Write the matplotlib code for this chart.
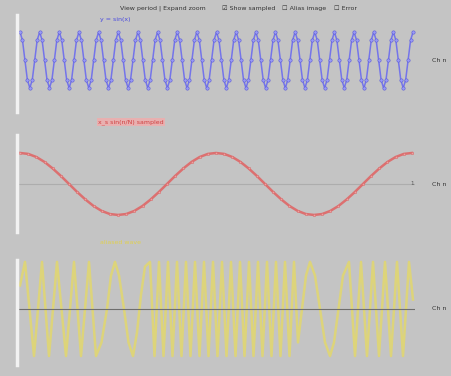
import matplotlib.pyplot as plt

# blue trace: 20 cycles, 8 samples per cycle
blue_y = [
    1.0, 0.71, 0.0, -0.71, -1.0, -0.71, 0.0, 0.71,
    1.0, 0.71, 0.0, -0.71, -1.0, -0.71, 0.0, 0.71,
    1.0, 0.71, 0.0, -0.71, -1.0, -0.71, 0.0, 0.71,
    1.0, 0.71, 0.0, -0.71, -1.0, -0.71, 0.0, 0.71,
    1.0, 0.71, 0.0, -0.71, -1.0, -0.71, 0.0, 0.71,
    1.0, 0.71, 0.0, -0.71, -1.0, -0.71, 0.0, 0.71,
    1.0, 0.71, 0.0, -0.71, -1.0, -0.71, 0.0, 0.71,
    1.0, 0.71, 0.0, -0.71, -1.0, -0.71, 0.0, 0.71,
    1.0, 0.71, 0.0, -0.71, -1.0, -0.71, 0.0, 0.71,
    1.0, 0.71, 0.0, -0.71, -1.0, -0.71, 0.0, 0.71,
    1.0, 0.71, 0.0, -0.71, -1.0, -0.71, 0.0, 0.71,
    1.0, 0.71, 0.0, -0.71, -1.0, -0.71, 0.0, 0.71,
    1.0, 0.71, 0.0, -0.71, -1.0, -0.71, 0.0, 0.71,
    1.0, 0.71, 0.0, -0.71, -1.0, -0.71, 0.0, 0.71,
    1.0, 0.71, 0.0, -0.71, -1.0, -0.71, 0.0, 0.71,
    1.0, 0.71, 0.0, -0.71, -1.0, -0.71, 0.0, 0.71,
    1.0, 0.71, 0.0, -0.71, -1.0, -0.71, 0.0, 0.71,
    1.0, 0.71, 0.0, -0.71, -1.0, -0.71, 0.0, 0.71,
    1.0, 0.71, 0.0, -0.71, -1.0, -0.71, 0.0, 0.71,
    1.0, 0.71, 0.0, -0.71, -1.0, -0.71, 0.0, 0.71,
    1.0,
]

# red trace: 2 slow cycles, 24 samples per cycle
red_y = [
    1.0, 0.97, 0.87, 0.71, 0.5, 0.26, 0.0, -0.26, -0.5, -0.71, -0.87, -0.97,
    -1.0, -0.97, -0.87, -0.71, -0.5, -0.26, 0.0, 0.26, 0.5, 0.71, 0.87, 0.97,
    1.0, 0.97, 0.87, 0.71, 0.5, 0.26, 0.0, -0.26, -0.5, -0.71, -0.87, -0.97,
    -1.0, -0.97, -0.87, -0.71, -0.5, -0.26, 0.0, 0.26, 0.5, 0.71, 0.87, 0.97,
    1.0,
]

# yellow trace: aliased wave, vertices
yellow_x = [20, 25, 34, 42, 49, 57, 66, 74, 81, 89, 96, 101.5, 107, 111, 115,
            119, 124, 128.5, 133, 137, 141, 145, 150,
            154.5, 159, 163.5, 168, 172.5, 177, 181.5, 186, 190.5, 195,
            199.5, 204, 208.5, 213, 217.5, 222, 226.5, 231, 235.5, 240,
            244.5, 249, 253.5, 258, 262.5, 267, 271.5, 276, 280.5, 285,
            289.5, 294,
            298, 302, 306, 310, 315, 320, 325, 330, 334, 338.5, 343, 349,
            355, 361, 367, 373, 379, 385, 391, 397, 403, 409, 413]
yellow_y = [0.5, 1, -1, 1, -1, 1, -1, 1, -1, 1, -1, -0.71, 0, 0.71, 1,
            0.71, 0, -0.71, -1, -0.5, 0.3, 0.9, 1,
            -1, 1, -1, 1, -1, 1, -1, 1, -1, 1,
            -1, 1, -1, 1, -1, 1, -1, 1, -1, 1,
            -1, 1, -1, 1, -1, 1, -1, 1, -1, 1,
            -1, 1,
            -0.71, 0, 0.71, 1, 0.71, 0, -0.71, -1, -0.71, 0, 0.71, 1,
            -1, 1, -1, 1, -1, 1, -1, 1, -1, 1, 0.2]

bg = '#c4c4c4'
W, H = 452, 376
fig = plt.figure(figsize=(W / 100, H / 100), dpi=100, facecolor=bg)


def panel(top, bottom):
    ax = fig.add_axes([17 / W, 1 - bottom / H, 398 / W, (bottom - top) / H])
    ax.set_facecolor(bg)
    for s in ['top', 'right', 'bottom']:
        ax.spines[s].set_visible(False)
    ax.spines['left'].set_color('#f2f2f2')
    ax.spines['left'].set_linewidth(2.5)
    ax.set_xticks([])
    ax.set_yticks([])
    return ax


# panel 1 - blue
ax1 = panel(15, 112)
ax1.plot(range(len(blue_y)), blue_y, color='#7474ea', lw=1.1,
         marker='o', ms=2.4, mfc='#9a9af5', mec='#5a5ad6', mew=0.4)
ax1.set_xlim(-1.22, 160.8)
ax1.set_ylim(-1.86, 1.61)

# panel 2 - red
ax2 = panel(135, 232)
ax2.axhline(0, color='#adadad', lw=0.8)
ax2.plot(range(len(red_y)), red_y, color='#dc7070', lw=1.8,
         marker='o', ms=1.8, mfc='#f0a0a0', mec='#d06060', mew=0.3)
ax2.set_xlim(-0.37, 48.37)
ax2.set_ylim(-1.55, 1.58)
ax2.text(48, 0, '1', fontsize=4, color='#555555', ha='center', va='center')

# panel 3 - yellow
ax3 = panel(260, 365)
ax3.plot(yellow_x, yellow_y, color='#e0d672', lw=1.8, alpha=0.9)
ax3.axhline(0, color='#6e6e6e', lw=0.8)
ax3.set_xlim(17, 415)
ax3.set_ylim(-1.19, 1.04)

# header with view controls
fig.text(120 / W, 1 - 8 / H, 'View period | Expand zoom', fontsize=4.5,
         color='#333333', va='center')
fig.text(222 / W, 1 - 8 / H, '\u2611 Show sampled', fontsize=4.5,
         color='#333333', va='center')
fig.text(282 / W, 1 - 8 / H, '\u2610 Alias image', fontsize=4.5,
         color='#333333', va='center')
fig.text(334 / W, 1 - 8 / H, '\u2610 Error', fontsize=4.5,
         color='#333333', va='center')

# trace labels
fig.text(100 / W, 1 - 20 / H, 'y = sin(x)', fontsize=4.5, color='#4a4ae0',
         va='center')
fig.text(98 / W, 1 - 122 / H, 'x_s sin(n/N) sampled', fontsize=4.5,
         color='#d04040', va='center',
         bbox=dict(boxstyle='square,pad=0.2', fc='#e8b0b0', ec='none'))
fig.text(100 / W, 1 - 243 / H, 'aliased wave', fontsize=4.5,
         color='#e0d050', va='center')

# channel labels on the right
for y in [60, 185, 309]:
    fig.text(432 / W, 1 - y / H, 'Ch n', fontsize=4.5, color='#333333',
             va='center')

fig.savefig('out.png', dpi=100, facecolor=bg)
